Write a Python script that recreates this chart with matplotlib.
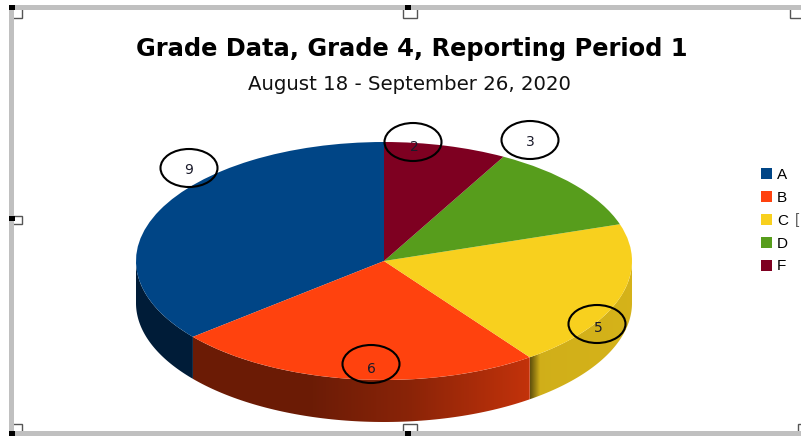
"""
Grade distribution drawn as a tilted pie with a shaded side wall.
"""

import numpy as np
import matplotlib.pyplot as plt
from matplotlib.colors import to_rgb
from matplotlib.patches import Ellipse, Polygon, Rectangle

grades = ['A', 'B', 'C', 'D', 'F']
counts = [9, 6, 5, 3, 2]
colors = ['#004586', '#ff420e', '#f8d01e', '#579d1c', '#7e0021']

callout_labels = ['9', '6', '5', '3', '2']
callout_x = [189, 371, 597, 530, 413]
callout_y = [168, 364, 324, 140, 142]
label_x = [189, 371, 598, 530, 414]
label_y = [170, 369, 328, 142, 147]

W, H = 801, 436
cx_px, cy_px = 384, 261
rx_px, ry_px = 248, 119
depth_px = 42


def wall_shade(x):
    """Brightness of the side wall, x runs from -1 (left) to 1 (right)."""
    return np.interp(x, [-1, -0.3, 0.1, 0.58, 0.62, 1], [0.42, 0.42, 0.54, 0.76, 0.84, 0.86])


fig = plt.figure(figsize=(W / 100, H / 100), dpi=100)

# page layer in pixel coordinates: frame, handles, title
page = fig.add_axes([0, 0, 1, 1])
page.set_xlim(0, W)
page.set_ylim(H, 0)
page.axis('off')

for hx, hy, hw, hh in [(6, 2, 16, 16), (403, 2, 14, 16), (790, 2, 20, 16),
                       (6, 216, 16, 8), (6, 424, 16, 14), (403, 424, 14, 14), (798, 424, 10, 14)]:
    page.add_patch(Rectangle((hx, hy), hw, hh, fc='white', ec='#555555', lw=1, zorder=1))
page.add_patch(Rectangle((9, 5), W - 9, 5, color='#c0c0c0', lw=0, zorder=2))
page.add_patch(Rectangle((9, 5), 5, H - 5, color='#c0c0c0', lw=0, zorder=2))
page.add_patch(Rectangle((9, 431), W - 9, 5, color='#c0c0c0', lw=0, zorder=2))
page.add_patch(Rectangle((0, 0), 9, H, color='white', lw=0, zorder=2))
page.add_patch(Rectangle((0, 0), W, 5, color='white', lw=0, zorder=2))
for hx, hy in [(9, 5), (405, 5), (9, 216), (9, 431), (405, 431)]:
    page.add_patch(Rectangle((hx, hy), 6, 5, color='black', lw=0, zorder=4))

page.text(411.5, 49, 'Grade Data, Grade 4, Reporting Period 1', ha='center', va='center',
          fontsize=17.4, fontweight='bold', family='DejaVu Sans', color='black')
page.text(409.5, 84, 'August 18 - September 26, 2020', ha='center', va='center',
          fontsize=14.2, family='DejaVu Sans', color='#111111')

# pie layer: one unit of radius covers rx_px across and ry_px down
ax = fig.add_axes([(cx_px - rx_px) / W, 1 - (cy_px + ry_px + depth_px) / H,
                   2 * rx_px / W, (2 * ry_px + depth_px) / H])
depth = depth_px / ry_px

# slices run anticlockwise from the top, only the part facing down shows a wall
edges = 90 + np.cumsum([0] + counts) / sum(counts) * 360
for i, color in enumerate(colors):
    lo, hi = max(edges[i], 180), min(edges[i + 1], 360)
    if lo >= hi:
        continue
    t = np.radians(np.linspace(lo, hi, 80))
    xs, ys = np.cos(t), np.sin(t)
    outline = np.column_stack([np.r_[xs, xs[::-1]], np.r_[ys, ys[::-1] - depth]])
    clip = Polygon(outline, closed=True, transform=ax.transData, fc='none', ec='none')
    ax.add_patch(clip)

    grid = np.linspace(xs.min(), xs.max(), 300)
    shade = wall_shade(grid)
    if grid[0] > 0:
        # the cut face of the slice throws a short dark band at its left end
        shade = shade * np.clip(0.5 + (grid - grid[0]) / 0.04 * 0.5, 0.5, 1)
    strip = np.outer(shade, to_rgb(color))[np.newaxis, :, :]
    img = ax.imshow(strip, extent=(xs.min(), xs.max(), -1 - depth, 0), aspect='auto',
                    interpolation='bilinear', zorder=1)
    img.set_clip_path(clip)

wedges, _ = ax.pie(counts, colors=colors, startangle=90, radius=1, center=(0, 0),
                   wedgeprops={'linewidth': 0})
for w in wedges:
    w.set_zorder(2)
ax.set_aspect('auto')
ax.set_xlim(-1, 1)
ax.set_ylim(-1 - depth, 1)
ax.axis('off')

ax.legend(wedges, grades, loc='upper left', bbox_to_anchor=(760.5 / W, 1 - 168 / H),
          bbox_transform=fig.transFigure, frameon=False, handlelength=0.72,
          handleheight=0.72, handletextpad=0.36, labelspacing=0.58, borderpad=0, borderaxespad=0,
          prop={'family': 'Liberation Sans', 'size': 11})

# hand-drawn callouts sit on top of everything
over = fig.add_axes([0, 0, 1, 1])
over.set_xlim(0, W)
over.set_ylim(H, 0)
over.axis('off')
over.patch.set_alpha(0)
# what is left of the second legend column at the edge of the screenshot
over.text(795, 220, '[', ha='left', va='center', fontsize=11, color='#555555',
          family='Liberation Sans')
for x, y in zip(callout_x, callout_y):
    over.add_patch(Ellipse((x, y), 57, 38, fc='none', ec='black', lw=1.5))
for label, x, y in zip(callout_labels, label_x, label_y):
    over.text(x, y, label, ha='center', va='center', fontsize=10, color='#1a1a2a',
              family='DejaVu Sans')

fig.savefig('out.png', dpi=100)
